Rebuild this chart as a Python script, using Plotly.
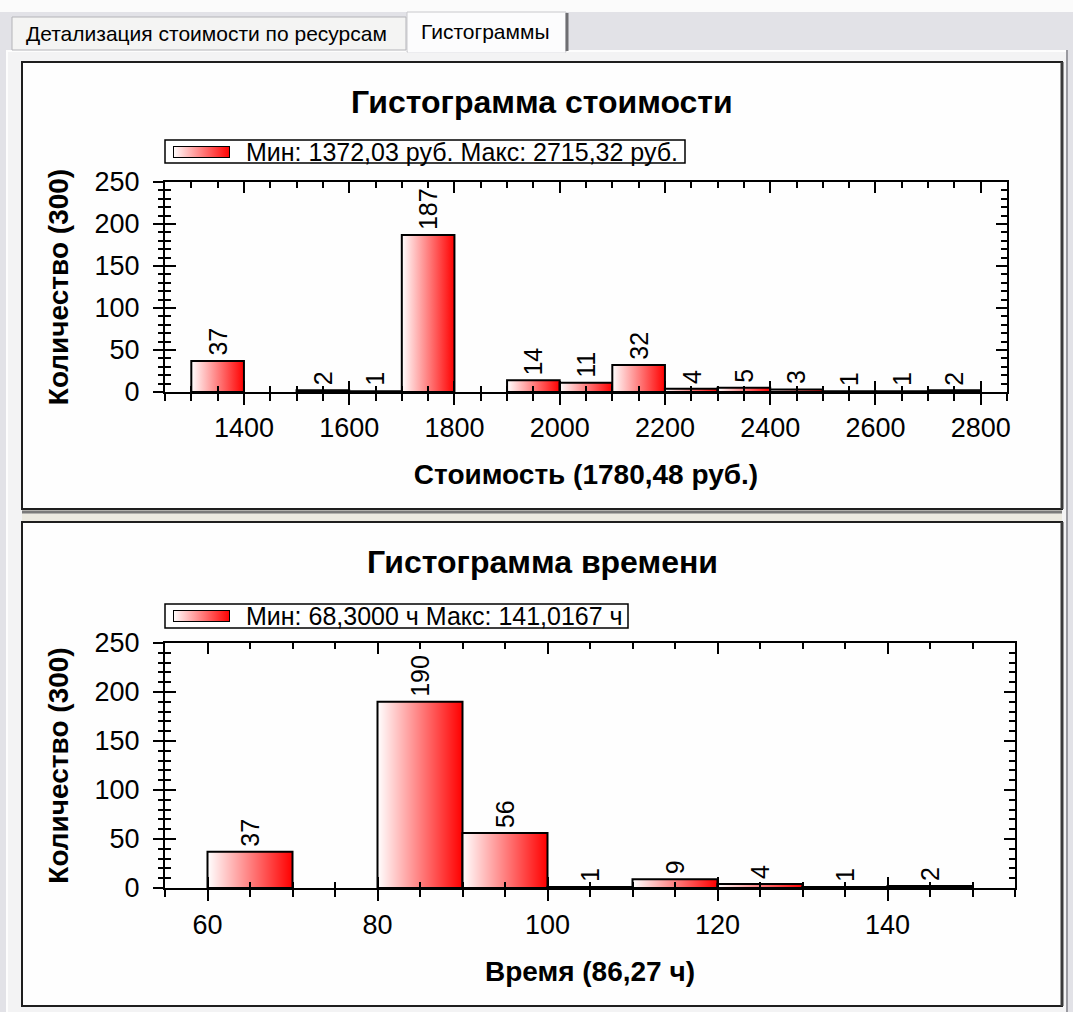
import plotly.graph_objects as go

W, H = 1073, 1012

# ---- data -------------------------------------------------------------
tab_labels = ["Детализация стоимости по ресурсам", "Гистограммы"]

cost_title = "Гистограмма стоимости"
cost_legend = "Мин: 1372,03 руб. Макс: 2715,32 руб."
cost_xtitle = "Стоимость (1780,48 руб.)"
cost_bin_left = [1300, 1400, 1500, 1600, 1700, 1800, 1900, 2000,
                 2100, 2200, 2300, 2400, 2500, 2600, 2700]
cost_counts = [37, 0, 2, 1, 187, 0, 14, 11, 32, 4, 5, 3, 1, 1, 2]
cost_bin_width = 100

time_title = "Гистограмма времени"
time_legend = "Мин: 68,3000 ч Макс: 141,0167 ч"
time_xtitle = "Время (86,27 ч)"
time_bin_left = [60, 70, 80, 90, 100, 110, 120, 130, 140]
time_counts = [37, 0, 190, 56, 1, 9, 4, 1, 2]
time_bin_width = 10

count_title = "Количество (300)"

# ---- styling ----------------------------------------------------------
FONT = "Liberation Sans, Arial, sans-serif"
GRAD = [[0, "#ffffff"], [1, "#ff0000"]]
INK = "#000000"


def px(x):
    return x / W


def py(y):
    return 1 - y / H


fig = go.Figure()


def add_hist(lefts, counts, width, xa, ya):
    for left, c in zip(lefts, counts):
        if c <= 0:
            continue
        right = left + width
        fig.add_trace(go.Scatter(
            x=[left, left, right, right, left], y=[0, c, c, 0, 0],
            xaxis=xa, yaxis=ya, mode="lines", fill="toself",
            fillgradient=dict(type="horizontal", colorscale=GRAD),
            line=dict(color=INK, width=2),
            hoverinfo="skip", showlegend=False))
        fig.add_annotation(
            x=left + width / 2, y=c, xref=xa, yref=ya, text=str(c),
            textangle=-90, showarrow=False, xanchor="center",
            yanchor="bottom", yshift=3,
            font=dict(family=FONT, size=25, color=INK))


def add_swatch(xa, ya):
    fig.add_trace(go.Scatter(
        x=[0, 0, 1, 1, 0], y=[0, 1, 1, 0, 0], xaxis=xa, yaxis=ya,
        mode="lines", fill="toself",
        fillgradient=dict(type="horizontal", colorscale=GRAD),
        line=dict(color=INK, width=2), hoverinfo="skip", showlegend=False))


def empty(xa, ya):
    fig.add_trace(go.Scatter(x=[], y=[], xaxis=xa, yaxis=ya,
                             showlegend=False, hoverinfo="skip"))


add_hist(cost_bin_left, cost_counts, cost_bin_width, "x", "y")
add_hist(time_bin_left, time_counts, time_bin_width, "x2", "y2")
empty("x3", "y3")
empty("x4", "y4")
add_swatch("x5", "y5")
add_swatch("x6", "y6")

tickfont = dict(family=FONT, size=27, color=INK)
titlefont = dict(family=FONT, size=28, color=INK)


def base_x(rng, dtick, mdtick, dom, anchor, title, lab_off):
    return dict(domain=dom, range=rng, anchor=anchor, showline=True,
                linecolor=INK, linewidth=2, mirror=True, ticks="outside",
                ticklen=11, tickwidth=2, tickcolor=INK, dtick=dtick, tick0=0,
                minor=dict(ticks="outside", dtick=mdtick, tick0=0, ticklen=7,
                           tickwidth=2, tickcolor=INK),
                showgrid=False, zeroline=False, tickfont=tickfont,
                ticklabelstandoff=lab_off, automargin=False,
                title=dict(text="<b>%s</b>" % title, font=titlefont,
                           standoff=22))


def base_y(dom, anchor):
    return dict(domain=dom, range=[0, 250], anchor=anchor, showline=True,
                linecolor=INK, linewidth=2, mirror=True, ticks="outside",
                ticklen=10, tickwidth=2, tickcolor=INK, dtick=50, tick0=0,
                minor=dict(ticks="outside", dtick=10, tick0=0, ticklen=5,
                           tickwidth=2, tickcolor=INK),
                showgrid=False, zeroline=False, tickfont=tickfont,
                ticklabelstandoff=8, automargin=False,
                title=dict(text="<b>%s</b>" % count_title, font=titlefont,
                           standoff=18))


def over_x(rng, dtick, mdtick, base, anchor):
    return dict(overlaying=base, anchor=anchor, range=rng, side="bottom",
                showline=True, linecolor=INK, linewidth=2, mirror="ticks",
                ticks="inside", ticklen=11, tickwidth=2, tickcolor=INK,
                dtick=dtick, tick0=0,
                minor=dict(ticks="inside", dtick=mdtick, tick0=0, ticklen=6,
                           tickwidth=2, tickcolor=INK),
                showticklabels=False, showgrid=False, zeroline=False,
                automargin=False)


def over_y(base, anchor):
    return dict(overlaying=base, anchor=anchor, range=[0, 250], side="left",
                showline=True, linecolor=INK, linewidth=2, mirror="ticks",
                ticks="inside", ticklen=11, tickwidth=2, tickcolor=INK,
                dtick=50, tick0=0,
                minor=dict(ticks="inside", dtick=10, tick0=0, ticklen=6,
                           tickwidth=2, tickcolor=INK),
                showticklabels=False, showgrid=False, zeroline=False,
                automargin=False)


def swatch_axis(dom, anchor):
    return dict(domain=dom, range=[0, 1], anchor=anchor, visible=False,
                fixedrange=True, automargin=False)


cost_range = [1250, 2850]
time_range = [55, 155]

layout_axes = dict(
    xaxis=base_x(cost_range, 200, 50, [px(165), px(1007)], "y",
                 cost_xtitle, 0),
    yaxis=base_y([py(392), py(182)], "x"),
    xaxis3=over_x(cost_range, 200, 50, "x", "y3"),
    yaxis3=over_y("y", "x3"),
    xaxis2=base_x(time_range, 20, 5, [px(165), px(1015)], "y2",
                  time_xtitle, 1),
    yaxis2=base_y([py(888), py(643)], "x2"),
    xaxis4=over_x(time_range, 20, 5, "x2", "y4"),
    yaxis4=over_y("y2", "x4"),
    xaxis5=swatch_axis([px(173), px(230)], "y5"),
    yaxis5=swatch_axis([py(158), py(146)], "x5"),
    xaxis6=swatch_axis([px(173), px(230)], "y6"),
    yaxis6=swatch_axis([py(622), py(610)], "x6"),
)

# ---- window chrome: tab strip and the two chart panels ----------------
shapes = []


def rect(x0, y0, x1, y1, fill, line=None, width=0, layer="below"):
    shapes.append(dict(type="rect", xref="paper", yref="paper",
                       x0=px(x0), x1=px(x1), y0=py(y1), y1=py(y0),
                       fillcolor=fill, layer=layer,
                       line=dict(color=line or fill, width=width)))


def hline(x0, x1, y, color, width=1):
    shapes.append(dict(type="line", xref="paper", yref="paper",
                       x0=px(x0), x1=px(x1), y0=py(y), y1=py(y),
                       layer="below", line=dict(color=color, width=width)))


def vline(x, y0, y1, color, width=1):
    shapes.append(dict(type="line", xref="paper", yref="paper",
                       x0=px(x), x1=px(x), y0=py(y0), y1=py(y1),
                       layer="below", line=dict(color=color, width=width)))


rect(0, 0, W, 12, "#fbfbfb")
rect(6, 50, 1068, H, "#f3f3f4")
vline(7, 50, H, "#fdfdfd", 2)
hline(6, 1068, 51, "#fdfdfd", 2)
vline(1067, 50, H, "#9a9aa0", 2)
# inactive tab
rect(12, 17, 406, 50, "#f4f4f3", "#b4b4b8", 1)
# active tab
rect(407, 12, 566, 52, "#fcfcfd", "#c8c8cc", 1)
vline(567, 13, 51, "#6e6e72", 3)
hline(408, 565, 51, "#fcfcfd", 3)
# panels
rect(22, 62, 1062, 509, "#fefefe", "#1e1e1e", 2)
rect(22, 510, 1062, 521, "#ebe9e0")
hline(22, 1062, 512, "#7a7a7a", 3)
rect(22, 522, 1062, 1006, "#fefefe", "#1e1e1e", 2)
vline(1062, 62, 509, "#3a3a3a", 3)
vline(1062, 522, 1006, "#3a3a3a", 3)
# legend frames
rect(165, 140, 685, 163, "#ffffff", INK, 1.5)
rect(165, 604, 628, 628, "#ffffff", INK, 1.5)

# ---- texts ------------------------------------------------------------
annotations = list(fig.layout.annotations)


def text(x, y, s, size, bold=False, xanchor="center"):
    annotations.append(dict(
        xref="paper", yref="paper", x=px(x), y=py(y), showarrow=False,
        text="<b>%s</b>" % s if bold else s, xanchor=xanchor,
        yanchor="middle", font=dict(family=FONT, size=size, color=INK)))


text(24, 33, tab_labels[0], 21, xanchor="left")
text(419, 31, tab_labels[1], 21, xanchor="left")
text(542, 102, cost_title, 32, bold=True)
text(542, 562, time_title, 32, bold=True)
text(244, 152, cost_legend, 25, xanchor="left")
text(244, 616, time_legend, 25, xanchor="left")

fig.update_layout(
    width=W, height=H, margin=dict(l=0, r=0, t=0, b=0, autoexpand=False),
    paper_bgcolor="#e2e2e7", plot_bgcolor="rgba(0,0,0,0)",
    showlegend=False, shapes=shapes, annotations=annotations,
    font=dict(family=FONT, color=INK),
    **layout_axes)

fig.write_html("out.html")
